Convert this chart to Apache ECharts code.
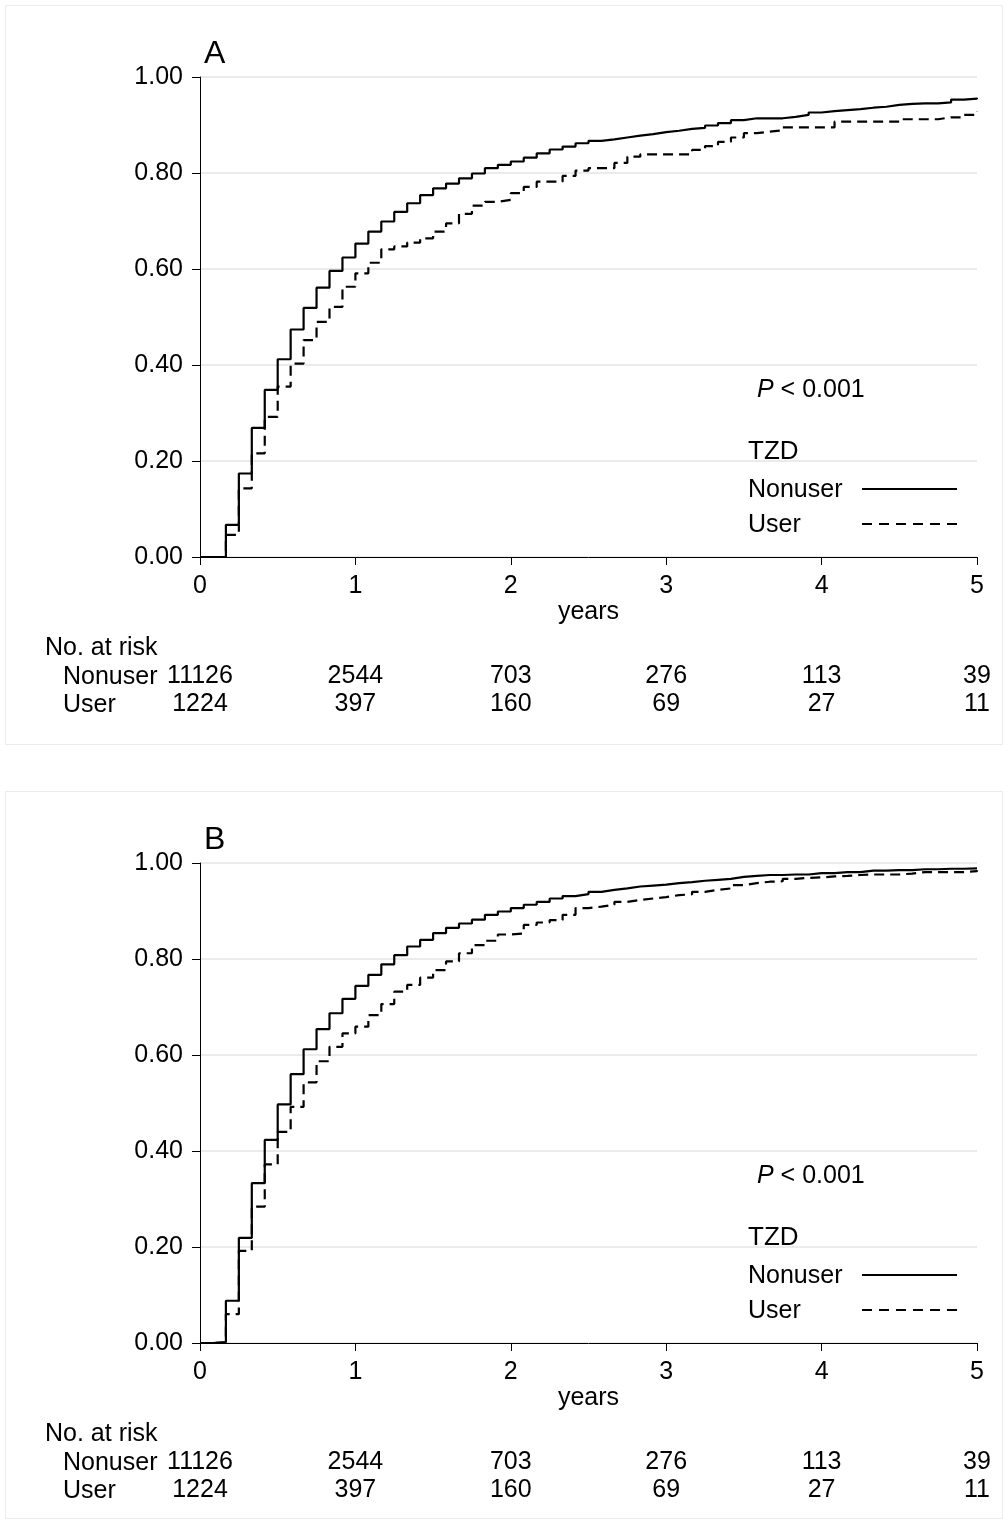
<!DOCTYPE html>
<html>
<head>
<meta charset="utf-8">
<script src="https://cdn.jsdelivr.net/npm/echarts@6/dist/echarts.min.js"></script>
<style>
  html, body { margin: 0; padding: 0; background: #fff; }
  #main { width: 1008px; height: 1523px; }
</style>
</head>
<body>
<div id="main"></div>
<script>
// time grid (months since start), plotted in years
var months = [0, 1, 2, 3, 4, 5, 6, 7, 8, 9, 10, 11, 12, 13, 14, 15, 16, 17, 18, 19,
    20, 21, 22, 23, 24, 25, 26, 27, 28, 29, 30, 31, 32, 33, 34, 35, 36, 37, 38, 39,
    40, 41, 42, 43, 44, 45, 46, 47, 48, 49, 50, 51, 52, 53, 54, 55, 56, 57, 58, 59, 60];

// panel A cumulative incidence
var nonuserA = [0, 0, 0.067, 0.174, 0.269, 0.348, 0.412, 0.474, 0.519, 0.561,
    0.596, 0.624, 0.653, 0.678, 0.699, 0.719, 0.737, 0.754, 0.768, 0.778,
    0.789, 0.799, 0.810, 0.817, 0.824, 0.832, 0.841, 0.849, 0.855, 0.862,
    0.867, 0.870, 0.874, 0.878, 0.881, 0.885, 0.888, 0.892, 0.894, 0.899,
    0.904, 0.910, 0.914, 0.914, 0.914, 0.917, 0.921, 0.926, 0.929, 0.931,
    0.933, 0.936, 0.938, 0.942, 0.944, 0.945, 0.945, 0.947, 0.953, 0.955, 0.957];
var userA = [0, 0, 0.046, 0.143, 0.216, 0.292, 0.355, 0.403, 0.452, 0.490,
    0.521, 0.563, 0.591, 0.613, 0.641, 0.647, 0.655, 0.664, 0.678, 0.695,
    0.715, 0.732, 0.740, 0.744, 0.758, 0.771, 0.782, 0.782, 0.794, 0.805,
    0.810, 0.810, 0.821, 0.834, 0.839, 0.839, 0.839, 0.839, 0.848, 0.856,
    0.865, 0.874, 0.883, 0.886, 0.889, 0.895, 0.895, 0.895, 0.895, 0.907,
    0.907, 0.907, 0.907, 0.907, 0.912, 0.912, 0.912, 0.916, 0.916, 0.921, 0.928];

// panel B cumulative incidence
var nonuserB = [0, 0.002, 0.088, 0.219, 0.333, 0.423, 0.497, 0.560, 0.612, 0.654,
    0.687, 0.717, 0.744, 0.767, 0.789, 0.808, 0.826, 0.840, 0.854, 0.865,
    0.874, 0.882, 0.892, 0.899, 0.906, 0.913, 0.919, 0.926, 0.931, 0.935,
    0.940, 0.944, 0.947, 0.951, 0.953, 0.955, 0.958, 0.960, 0.963, 0.965,
    0.967, 0.971, 0.973, 0.975, 0.975, 0.976, 0.976, 0.979, 0.979, 0.981,
    0.981, 0.984, 0.984, 0.985, 0.985, 0.987, 0.987, 0.988, 0.988, 0.989, 0.990];
var userB = [0, 0.001, 0.060, 0.192, 0.284, 0.372, 0.440, 0.492, 0.543, 0.587,
    0.617, 0.645, 0.659, 0.683, 0.706, 0.732, 0.746, 0.761, 0.777, 0.795,
    0.812, 0.829, 0.838, 0.851, 0.853, 0.871, 0.876, 0.881, 0.892, 0.906,
    0.909, 0.913, 0.919, 0.923, 0.926, 0.929, 0.933, 0.935, 0.940, 0.944,
    0.947, 0.954, 0.958, 0.961, 0.962, 0.967, 0.969, 0.970, 0.972, 0.973,
    0.975, 0.976, 0.976, 0.976, 0.978, 0.981, 0.981, 0.981, 0.981, 0.983, 0.985];

// number at risk at years 0..5
var riskYears = [0, 1, 2, 3, 4, 5];
var nonuserRisk = [11126, 2544, 703, 276, 113, 39];
var userRisk = [1224, 397, 160, 69, 27, 11];

var FONT = '"Liberation Sans", Arial, sans-serif';
var FS = 25;
var PANEL_SHIFT = 786;

var toPairs = function (vals) {
    return months.map(function (m, i) { return [m / 12, vals[i]]; });
};

var riskLabel = function (arr) {
    return function (v) {
        var i = riskYears.indexOf(Math.round(v));
        return i < 0 ? '' : String(arr[i]);
    };
};

var mainX = function (grid) {
    return {
        type: 'value', gridIndex: grid, min: 0, max: 5, interval: 1,
        axisLine: { show: true, onZero: false, lineStyle: { color: '#000', width: 1 } },
        axisTick: { show: true, length: 8, lineStyle: { color: '#000' } },
        axisLabel: { color: '#000', fontFamily: FONT, fontSize: FS, margin: 17 },
        splitLine: { show: false },
        name: 'years', nameLocation: 'middle', nameGap: 42,
        nameTextStyle: { color: '#000', fontFamily: FONT, fontSize: FS }
    };
};

var riskX = function (grid, arr, offset) {
    return {
        type: 'value', gridIndex: grid, min: 0, max: 5, interval: 1,
        position: 'bottom', offset: offset,
        axisLine: { show: false }, axisTick: { show: false }, splitLine: { show: false },
        axisLabel: { color: '#000', fontFamily: FONT, fontSize: FS, margin: 0, formatter: riskLabel(arr) }
    };
};

var mainY = function (grid) {
    return {
        type: 'value', gridIndex: grid, min: 0, max: 1, interval: 0.2,
        axisLine: { show: true, lineStyle: { color: '#000', width: 1 } },
        axisTick: { show: true, length: 8, lineStyle: { color: '#000' } },
        axisLabel: {
            color: '#000', fontFamily: FONT, fontSize: FS, margin: 17,
            formatter: function (v) { return v.toFixed(2); }
        },
        splitLine: { show: true, lineStyle: { color: '#ebebeb', width: 2 } }
    };
};

var kmSeries = function (name, vals, axis, dashed) {
    return {
        name: name, type: 'line', step: 'end',
        xAxisIndex: axis, yAxisIndex: axis === 0 ? 0 : 1,
        data: toPairs(vals), showSymbol: false, silent: true,
        lineStyle: { color: '#000', width: 2.2, type: dashed ? [10, 6] : 'solid' }
    };
};

var txt = function (x, y, text, extra) {
    var style = { text: text, fill: '#000', font: FS + 'px ' + FONT, align: 'left', verticalAlign: 'middle' };
    for (var k in extra) style[k] = extra[k];
    return { type: 'text', x: x, y: y, z: 10, style: style, silent: true };
};

// per-panel decorations (box, letter, p-value, key, risk table headers)
var panelGraphics = function (letter, dy, boxH) {
    return [
        { type: 'rect', shape: { x: 5.5, y: 5.5 + dy, width: 997, height: boxH },
          style: { fill: 'none', stroke: '#ececec', lineWidth: 1 }, silent: true },
        txt(204, 54 + dy, letter, { font: '32px ' + FONT }),
        txt(757, 390 + dy, '{i|P} < 0.001', { rich: { i: { fontStyle: 'italic', fontSize: FS, fontFamily: FONT } } }),
        txt(748, 452 + dy, 'TZD', { font: '26px ' + FONT }),
        txt(748, 490 + dy, 'Nonuser'),
        txt(748, 525 + dy, 'User'),
        { type: 'line', shape: { x1: 862, y1: 489 + dy, x2: 957, y2: 489 + dy },
          style: { stroke: '#000', lineWidth: 2 }, silent: true },
        { type: 'line', shape: { x1: 862, y1: 524 + dy, x2: 957, y2: 524 + dy },
          style: { stroke: '#000', lineWidth: 2, lineDash: [10, 7] }, silent: true },
        txt(45, 648 + dy, 'No. at risk'),
        txt(63, 677 + dy, 'Nonuser'),
        txt(63, 705 + dy, 'User')
    ];
};

var chart = echarts.init(document.getElementById('main'), null, { renderer: 'canvas' });

chart.setOption({
    animation: false,
    backgroundColor: '#fff',
    grid: [
        { left: 200, top: 77, width: 777, height: 480 },
        { left: 200, top: 77 + PANEL_SHIFT, width: 777, height: 480 }
    ],
    xAxis: [
        mainX(0), mainX(1),
        riskX(0, nonuserRisk, 107), riskX(0, userRisk, 135),
        riskX(1, nonuserRisk, 107), riskX(1, userRisk, 135)
    ],
    yAxis: [mainY(0), mainY(1)],
    series: [
        kmSeries('Nonuser', nonuserA, 0, false),
        kmSeries('User', userA, 0, true),
        kmSeries('Nonuser', nonuserB, 1, false),
        kmSeries('User', userB, 1, true)
    ],
    graphic: panelGraphics('A', 0, 739).concat(panelGraphics('B', PANEL_SHIFT, 727))
});
</script>
</body>
</html>
